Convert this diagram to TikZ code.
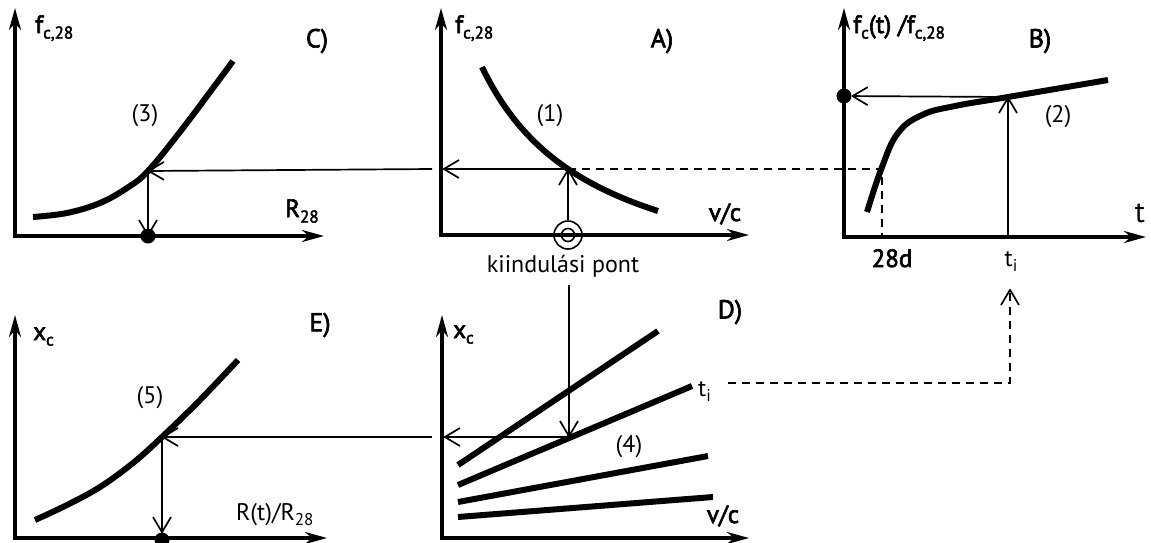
\documentclass[tikz,border=0pt]{standalone}
\usepackage{fontspec}
\setmainfont{PT Sans}
\newfontfamily\semib[FakeBold=2.5]{PT Sans}
\usetikzlibrary{arrows.meta}
\pgfdeclarearrow{
  name = Vee,
  setup code = {
    \pgfarrowssettipend{0pt}
    \pgfarrowssetlineend{-1pt}
    \pgfarrowssetbackend{-16pt}
    \pgfarrowsupperhullpoint{0pt}{0pt}
    \pgfarrowsupperhullpoint{-16pt}{9pt}
  },
  drawing code = {
    \pgfsetdash{}{0pt}
    \pgfsetroundjoin
    \pgfsetbuttcap
    \pgfpathmoveto{\pgfpoint{-16pt}{9pt}}
    \pgfpathlineto{\pgfpoint{-0.8pt}{0pt}}
    \pgfpathlineto{\pgfpoint{-16pt}{-9pt}}
    \pgfusepathqstroke
  }
}
\newcommand\sbs[1]{\raisebox{-0.22em}{\fontsize{17}{19}\selectfont #1}}
\begin{document}
\begin{tikzpicture}[x=1pt,y=-1pt,
  axis/.style={line width=3.2pt,-{Stealth[length=22pt,width=12pt,inset=7pt]}},
  curve/.style={line width=6pt},
  thin/.style={line width=1.6pt},
  thinarrow/.style={line width=1.7pt,-Vee},
  dashline/.style={line width=1.7pt,dash pattern=on 8pt off 6pt},
  dot/.style={circle,fill=black,inner sep=0pt,minimum size=15pt},
  lbl/.style={inner sep=0pt,font=\fontsize{24}{28}\selectfont},
  blbl/.style={inner sep=0pt,font=\fontsize{25}{28}\semib},
  panel/.style={inner sep=0pt,font=\fontsize{26}{30}\semib}]
\useasboundingbox (0,0) rectangle (1151,542);
% ---------- Panel C ----------
\coordinate (Co) at (15,236);
\coordinate (Cy) at (15,8);
\coordinate (Cx) at (324,236);
\draw[axis] (Co) -- (Cy);
\draw[axis] ([xshift=-1.6pt]Co) -- (Cx);
\coordinate (Cp) at (148,171);
\coordinate (Cb) at (148,236);
\draw[curve] plot[smooth,tension=0.6] coordinates {(33,217) (67,213) (100,203) (127,188) (148,171) (183,128) (233,61)};
\node[blbl,anchor=base west] (Cyl) at (35,33) {f\sbs{c,28}};
\node[panel] (Cl) at (317,41) {C)};
\node[lbl] (C3) at (145,116) {(3)};
\node[blbl,anchor=base west] (CR) at (285,217) {R\sbs{28}};
% ---------- Panel A ----------
\coordinate (Ao) at (441,235);
\coordinate (Ay) at (441,8);
\coordinate (Ax) at (749,235);
\draw[axis] (Ao) -- (Ay);
\draw[axis] ([xshift=-1.6pt]Ao) -- (Ax);
\coordinate (Ap) at (568,169);
\coordinate (Aax) at (443,169);
\coordinate (Aleft) at (432,169);
\draw[curve] plot[domain=482:658,samples=80] (\x,{304.45-271.17/((\x-367.8)/100)});
\node[blbl,anchor=base west] (Ayl) at (455,33) {f\sbs{c,28}};
\node[panel] (Al) at (662,41) {A)};
\node[lbl] (A1) at (550,116) {(1)};
\node[blbl,anchor=base] (Avc) at (725,221) {v/c};
\node[draw,circle,thin,minimum size=28pt,inner sep=0pt] (start) at (568,235) {};
\node[draw,circle,thin,minimum size=13pt,inner sep=0pt] (startin) at (568,235) {};
\node[lbl,anchor=base] (kp) at (563,272) {kiindulási pont};
% ---------- Panel B ----------
\coordinate (Bo) at (844,237);
\coordinate (By) at (844,8);
\coordinate (Bx) at (1146,237);
\draw[axis] (Bo) -- (By);
\draw[axis] ([xshift=-1.6pt]Bo) -- (Bx);
\coordinate (Bp) at (1008,97);
\coordinate (B28) at (882,169);
\coordinate (B28b) at (882,237);
\coordinate (Bti) at (1008,237);
\draw[curve] plot[smooth,tension=0.7] coordinates {(867,212) (882,167) (898,133) (922,115) (955,106) (1008,97) (1108,80)};
\node[dot] (Bdot) at (844,96) {};
\node[blbl,anchor=base west] (Byl) at (853,33) {f\sbs{c}(t) /f\sbs{c,28}};
\node[panel] (Bl) at (1040,41) {B)};
\node[lbl] (B2) at (1058,117) {(2)};
\node[lbl,anchor=base,font=\fontsize{30}{32}\selectfont] (Bt) at (1140,222) {t};
\node[blbl,anchor=base] (B28d) at (892,267) {28d};
\node[lbl,anchor=base] (Btil) at (1011,266) {t\sbs{i}};
% ---------- Panel E ----------
\coordinate (Eo) at (15,538);
\coordinate (Ey) at (15,315);
\coordinate (Ex) at (327,538);
\draw[axis] (Eo) -- (Ey);
\draw[axis] ([xshift=-1.6pt]Eo) -- (Ex);
\coordinate (Ep) at (162,437);
\draw[curve] plot[smooth,tension=0.6] coordinates {(35,520) (67,505) (100,487) (133,463) (162,437) (200,400) (238,360)};
\node[dot] (Edot) at (162,540) {};
\node[blbl,anchor=base west] (Eyl) at (33,340) {x\sbs{c}};
\node[panel] (El) at (320,325) {E)};
\node[lbl] (E5) at (150,398) {(5)};
\node[lbl,anchor=base west] (ER) at (236,520) {R(t)/R\sbs{28}};
% ---------- Panel D ----------
\coordinate (Do) at (442,538);
\coordinate (Dy) at (442,315);
\coordinate (Dx) at (749,538);
\draw[axis] (Do) -- (Dy);
\draw[axis] ([xshift=-1.6pt]Do) -- (Dx);
\coordinate (Dp) at (569,437);
\coordinate (Dax) at (444,437);
\coordinate (Dleft) at (432,437);
\draw[curve] (458,465) -- (658,331);
\draw[curve] (458,485) -- (692,386);
\draw[curve] (458,502) -- (708,456);
\draw[curve] (458,517) -- (713,497);
\node[blbl,anchor=base west] (Dyl) at (453,338) {x\sbs{c}};
\node[panel] (Dl) at (730,312) {D)};
\node[lbl,anchor=base west] (Dti) at (698,396) {t\sbs{i}};
\node[lbl] (D4) at (629,447) {(4)};
\node[blbl,anchor=base] (Dvc) at (723,523) {v/c};
\coordinate (Dtie) at (728,383);
\coordinate (Dcorner) at (1010,383);
\coordinate (Bup) at (1010,289);
\coordinate (Dtop) at (569,285);
% ---------- connectors ----------
\draw[thinarrow] (start) -- (Ap);
\draw[thinarrow] (Ap) -- (Aax);
\draw[thinarrow] (Aleft) -- (Cp);
\draw[thinarrow] (Cp) -- (Cb);
\node[dot] (Cdot) at (148,236) {};
\draw[dashline] (Ap) -- (B28) -- (B28b);
\draw[thinarrow] (Bti) -- (Bp);
\draw[thinarrow] (Bp) -- (Bdot);
\draw[thinarrow] (Dtop) -- (Dp);
\draw[thinarrow] (Dp) -- (Dax);
\draw[thinarrow] (Dleft) -- (Ep);
\draw[thinarrow] (Ep) -- (162,533);
\draw[dashline,-Vee] (Dtie) -- (Dcorner) -- (Bup);
\end{tikzpicture}
\end{document}
